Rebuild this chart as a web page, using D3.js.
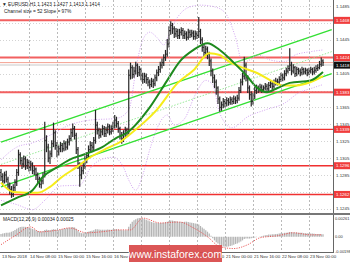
<!DOCTYPE html>
<html>
<head>
<meta charset="utf-8">
<script src="https://cdn.jsdelivr.net/npm/d3@7"></script>
<style>
  body { margin: 0; background: #fff; }
  svg { display: block; font-family: "Liberation Sans", Arial, sans-serif; }
</style>
</head>
<body>
<div id="chart"></div>
<script>
// EURUSD H1, prices in points (1.1414 -> 11414)
const firstOpen = 11288;
const closes = [11283,11278,11285,11280,11272,11268,11262,11270,11276,11288,
  11309,11302,11298,11304,11296,11300,11294,11298,11290,11292,
  11285,11280,11274,11278,11284,11326,11318,11305,11310,11322,
  11335,11320,11312,11316,11320,11316,11322,11318,11324,11328,
  11335,11340,11332,11315,11298,11285,11290,11296,11303,11308,
  11315,11320,11318,11326,11344,11338,11332,11336,11340,11334,
  11338,11342,11336,11340,11344,11350,11346,11340,11332,11328,
  11334,11338,11336,11403,11412,11404,11408,11415,11406,11410,
  11402,11398,11402,11398,11395,11392,11396,11393,11400,11406,
  11410,11415,11418,11424,11428,11440,11456,11462,11458,11452,
  11455,11450,11454,11456,11450,11452,11448,11454,11451,11453,
  11449,11452,11450,11455,11445,11436,11430,11434,11428,11420,
  11408,11400,11395,11388,11375,11365,11368,11372,11370,11373,
  11371,11374,11372,11375,11373,11376,11385,11395,11402,11415,
  11400,11388,11380,11372,11378,11385,11388,11386,11389,11386,
  11388,11390,11387,11391,11393,11390,11394,11396,11395,11398,
  11402,11400,11405,11408,11411,11415,11408,11412,11405,11410,
  11408,11406,11410,11407,11409,11406,11408,11410,11407,11409,
  11411,11412,11416,11420,11418];
const highs = [11292,11287,11289,11290,11283,11276,11272,11274,11280,11292,
  11315,11312,11306,11308,11307,11304,11303,11302,11300,11296,
  11294,11288,11283,11281,11288,11348,11332,11322,11314,11326,
  11347,11338,11324,11320,11324,11323,11326,11325,11328,11332,
  11340,11346,11343,11335,11318,11300,11295,11300,11308,11312,
  11320,11325,11324,11330,11362,11348,11341,11340,11344,11343,
  11342,11346,11345,11344,11348,11356,11354,11349,11342,11336,
  11338,11342,11341,11410,11418,11415,11413,11419,11417,11414,
  11412,11406,11406,11405,11401,11398,11400,11399,11404,11410,
  11414,11419,11423,11428,11433,11446,11461,11467,11465,11461,
  11459,11458,11458,11460,11459,11456,11455,11458,11457,11457,
  11456,11456,11455,11472,11458,11448,11440,11438,11437,11431,
  11423,11411,11404,11398,11390,11378,11372,11376,11375,11377,
  11376,11378,11377,11379,11378,11380,11389,11399,11406,11425,
  11418,11403,11391,11384,11382,11389,11392,11391,11393,11392,
  11391,11394,11393,11395,11397,11396,11398,11400,11399,11402,
  11406,11405,11409,11412,11415,11435,11419,11416,11414,11413,
  11412,11411,11413,11412,11412,11411,11412,11413,11412,11413,
  11415,11416,11420,11424,11422];
const lows = [11278,11272,11275,11276,11268,11262,11258,11259,11266,11272,
  11284,11297,11292,11294,11291,11292,11289,11290,11286,11285,
  11279,11275,11270,11269,11274,11282,11312,11300,11298,11306,
  11318,11315,11306,11308,11312,11312,11313,11314,11315,11320,
  11325,11330,11327,11310,11292,11271,11280,11286,11292,11299,
  11304,11311,11313,11314,11322,11333,11328,11329,11332,11330,
  11330,11334,11332,11333,11336,11340,11341,11335,11327,11322,
  11324,11330,11331,11333,11398,11399,11400,11404,11401,11402,
  11397,11393,11394,11393,11390,11387,11389,11388,11390,11396,
  11402,11406,11411,11414,11420,11425,11436,11451,11452,11447,
  11448,11446,11446,11450,11446,11446,11444,11445,11447,11448,
  11445,11445,11446,11447,11440,11431,11425,11426,11422,11414,
  11402,11394,11388,11380,11369,11360,11361,11364,11365,11366,
  11367,11368,11368,11369,11369,11370,11373,11382,11391,11398,
  11396,11382,11374,11366,11368,11375,11381,11382,11383,11382,
  11383,11385,11383,11384,11388,11386,11387,11391,11391,11392,
  11395,11396,11397,11402,11405,11408,11403,11405,11401,11402,
  11404,11402,11403,11404,11404,11402,11403,11405,11403,11404,
  11406,11408,11410,11413,11414];

// moving averages and bands, sampled [bar index, value]
const maGreen = [[0,11249],[9,11258],[18,11267],[24,11283],[32,11294],[39,11303],[47,11309],
  [57,11317],[66,11329],[72,11335],[85,11365],[95,11397],[102,11419],[110,11433],[118,11441],
  [125,11433],[133,11418],[141,11401],[146,11389],[152,11383],[158,11388],[165,11394],[177,11397],[184,11407]];
const maYellow = [[0,11276],[7,11265],[21,11264],[28,11271],[35,11283],[43,11294],[51,11306],
  [61,11317],[68,11324],[73,11332],[89,11362],[101,11394],[110,11409],[119,11429],[125,11427],
  [129,11421],[138,11412],[146,11406],[154,11397],[161,11391],[169,11391],[177,11395],[184,11402]];
const bandUpper = [[0,11303],[9,11318],[18,11323],[28,11332],[39,11344],[51,11350],[66,11352],
  [73,11362],[78,11421],[81,11445],[85,11454],[89,11448],[93,11439],[97,11457],[101,11472],
  [108,11484],[114,11486],[122,11484],[128,11477],[134,11448],[138,11418],[142,11421],[147,11427],
  [154,11421],[162,11419],[168,11427],[177,11431],[184,11433]];
const bandLower = [[0,11255],[9,11250],[18,11244],[25,11255],[34,11272],[45,11273],[51,11293],
  [57,11303],[64,11306],[70,11294],[73,11279],[77,11267],[81,11285],[85,11315],[91,11348],
  [95,11356],[99,11344],[105,11352],[111,11380],[117,11397],[121,11392],[125,11358],[132,11341],
  [141,11354],[151,11362],[162,11370],[170,11382],[178,11388],[184,11392]];

// regression channel: [bar index, upper, lower]
const channel = [[0,11324,11271],[189,11457,11405]];

// horizontal levels
const levels = [11468, 11424, 11383, 11339, 11296, 11262];
const priceTicks = [11485,11465,11445,11425,11405,11385,11365,11345,11325,11305,11285,11265,11245];
const bidPrice = 11418;

// MACD histogram (1e-5) per bar, signal sampled
const macd = [40,45,50,55,55,60,
  70,80,95,110,125,135,138,140,138,135,130,
  120,110,100,90,80,75,72,75,
  95,100,95,92,96,105,100,95,95,
  100,105,110,115,120,125,130,135,130,110,85,60,
  50,50,55,60,70,80,85,90,
  105,105,100,98,98,97,98,100,98,98,100,105,105,100,95,90,90,90,90,
  140,180,210,230,245,255,260,258,255,
  245,235,225,215,205,200,195,190,190,
  190,190,195,200,210,220,225,225,220,215,210,205,205,205,210,
  210,205,200,195,190,185,180,170,
  150,130,110,90,70,45,15,
  -20,-50,-75,-95,-110,-125,-135,-140,-140,-135,-130,-120,-110,-100,-95,
  -80,-65,-50,-30,-25,-25,-25,-20,-15,-10,
  -5,0,5,10,15,20,25,
  30,30,35,35,40,40,45,50,50,55,55,60,
  65,65,60,60,60,55,55,55,50,50,50,48,
  45,45,42,40,40,38,36,34];
const signal = [[0,-110],[8,14],[17,137],[22,68],[33,96],[39,123],[49,55],[57,68],[68,96],
  [74,96],[81,260],[91,192],[102,205],[110,123],[118,0],[125,-137],[133,-164],[141,-110],
  [148,-14],[158,14],[167,55],[177,27],[183,27]];
const macdTicks = [261, 0, -198];

const timeIdx = [0,16,32,48,64,80,96,112,128,144,160,176];
const timeLabels = ["13 Nov 2018","14 Nov 08:00","15 Nov 00:00","15 Nov 16:00","16 Nov 08:00",
  "19 Nov 00:00","19 Nov 16:00","20 Nov 08:00","21 Nov 00:00","21 Nov 16:00","22 Nov 08:00","23 Nov 00:00"];

const W = 350, H = 262;
const plotR = 333;
const mainTop = 0, mainBot = 213, macdTop = 215, macdBot = 252;
const fs = 4.4;

const svg = d3.select("#chart").append("svg")
  .attr("width", W).attr("height", H);

svg.append("rect").attr("width", W).attr("height", H).attr("fill", "#fff");

const x = d3.scaleLinear().domain([0, 190]).range([1, 1 + 190 * 1.75]);
const y = d3.scaleLinear().domain([11245, 11485]).range([208.8, 6]);
const yM = d3.scaleLinear().domain([-198, 261]).range([251, 218]);
const fmt = v => (v / 10000).toFixed(4);

svg.append("clipPath").attr("id", "clipMain")
  .append("rect").attr("x", 0).attr("y", mainTop).attr("width", plotR).attr("height", mainBot - mainTop);
svg.append("clipPath").attr("id", "clipMacd")
  .append("rect").attr("x", 0).attr("y", macdTop).attr("width", plotR).attr("height", macdBot - macdTop);

const main = svg.append("g").attr("clip-path", "url(#clipMain)");
const low = svg.append("g").attr("clip-path", "url(#clipMacd)");

// grid
const shownTicks = priceTicks.filter(t => levels.every(l => Math.abs(y(l) - y(t)) > 5));
main.selectAll(".hgrid").data(priceTicks).enter().append("line")
  .attr("x1", 0).attr("x2", plotR)
  .attr("y1", d => Math.round(y(d)) + 0.5).attr("y2", d => Math.round(y(d)) + 0.5)
  .attr("stroke", "#c8c8c8").attr("stroke-width", 0.8).attr("stroke-dasharray", "1,2");
svg.selectAll(".vgrid").data(timeIdx.slice(1)).enter().append("line")
  .attr("x1", d => Math.round(x(d)) + 0.5).attr("x2", d => Math.round(x(d)) + 0.5)
  .attr("y1", 0).attr("y2", macdBot)
  .attr("stroke", "#a8a8a8").attr("stroke-width", 0.8).attr("stroke-dasharray", "2,2");

// ask line band
main.append("line").attr("x1", 0).attr("x2", plotR)
  .attr("y1", y(bidPrice) + 2.5).attr("y2", y(bidPrice) + 2.5)
  .attr("stroke", "#e4e4e4").attr("stroke-width", 2);

// levels
main.selectAll(".lvl").data(levels).enter().append("line")
  .attr("x1", 0).attr("x2", plotR)
  .attr("y1", d => y(d)).attr("y2", d => y(d))
  .attr("stroke", (d, i) => i < 3 ? "#f26060" : "#f03030")
  .attr("stroke-width", (d, i) => i < 3 ? 2 : 1.4);
main.append("line").attr("x1", 0).attr("x2", plotR)
  .attr("y1", y(bidPrice)).attr("y2", y(bidPrice))
  .attr("stroke", "#f4a090").attr("stroke-width", 1);

// channel
const cx = d => x(d[0]);
main.append("line")
  .attr("x1", cx(channel[0])).attr("y1", y(channel[0][1]))
  .attr("x2", cx(channel[1])).attr("y2", y(channel[1][1]))
  .attr("stroke", "#33e033").attr("stroke-width", 1.4);
main.append("line")
  .attr("x1", cx(channel[0])).attr("y1", y(channel[0][2]))
  .attr("x2", cx(channel[1])).attr("y2", y(channel[1][2]))
  .attr("stroke", "#33e033").attr("stroke-width", 1.4);
main.append("line")
  .attr("x1", cx(channel[0])).attr("y1", y((channel[0][1] + channel[0][2]) / 2))
  .attr("x2", cx(channel[1])).attr("y2", y((channel[1][1] + channel[1][2]) / 2))
  .attr("stroke", "#90e890").attr("stroke-width", 0.9).attr("stroke-dasharray", "1.5,1.5");

// bollinger
const curve = d3.line().x(d => x(d[0])).y(d => y(d[1])).curve(d3.curveMonotoneX);
[bandUpper, bandLower].forEach(b => {
  main.append("path").attr("d", curve(b)).attr("fill", "none")
    .attr("stroke", "#cc99ee").attr("stroke-width", 0.9).attr("stroke-dasharray", "1,1.5");
});

// bars
const bars = closes.map((c, i) => ({ i, o: i ? closes[i - 1] : firstOpen, h: highs[i], l: lows[i], c }));
const bg = main.append("g");
bg.selectAll(".hl").data(bars).enter().append("line")
  .attr("x1", d => x(d.i)).attr("x2", d => x(d.i))
  .attr("y1", d => y(d.h)).attr("y2", d => y(d.l))
  .attr("stroke", "#262626").attr("stroke-width", 1.2);
bg.selectAll(".oc").data(bars).enter().append("path")
  .attr("d", d => `M${x(d.i) - 0.9},${y(d.o)}h0.9M${x(d.i)},${y(d.c)}h0.9`)
  .attr("stroke", "#262626").attr("stroke-width", 1);

// moving averages
main.append("path").attr("d", curve(maYellow)).attr("fill", "none")
  .attr("stroke", "#f6ec1a").attr("stroke-width", 2);
main.append("path").attr("d", curve(maGreen)).attr("fill", "none")
  .attr("stroke", "#1e8a1e").attr("stroke-width", 2);

// macd
low.selectAll(".hist").data(macd).enter().append("line")
  .attr("x1", (d, i) => x(i)).attr("x2", (d, i) => x(i))
  .attr("y1", yM(0)).attr("y2", d => yM(d))
  .attr("stroke", "#b4b4b4").attr("stroke-width", 1.25);
const sline = d3.line().x(d => x(d[0])).y(d => yM(d[1])).curve(d3.curveMonotoneX);
low.append("path").attr("d", sline(signal)).attr("fill", "none")
  .attr("stroke", "#e85050").attr("stroke-width", 0.9).attr("stroke-dasharray", "1.2,1.2");

// frame
svg.append("line").attr("x1", plotR + 0.5).attr("x2", plotR + 0.5).attr("y1", 0).attr("y2", macdBot)
  .attr("stroke", "#666").attr("stroke-width", 1);
svg.append("rect").attr("x", 0).attr("y", mainBot).attr("width", W).attr("height", 2).attr("fill", "#777");
svg.append("line").attr("x1", 0).attr("x2", plotR + 1).attr("y1", macdBot + 0.5).attr("y2", macdBot + 0.5)
  .attr("stroke", "#666");

// price axis
svg.selectAll(".ptick").data(shownTicks).enter().append("text")
  .attr("x", plotR + 3).attr("y", d => y(d) + 1.6)
  .attr("font-size", fs).attr("fill", "#333").text(fmt);
const lv = svg.selectAll(".lvlab").data(levels).enter().append("g")
  .attr("transform", d => `translate(${plotR + 1},${y(d) - 3.5})`);
lv.append("rect").attr("width", 16).attr("height", 7).attr("fill", "#f03c3c");
lv.append("text").attr("x", 2).attr("y", 5.1).attr("font-size", fs).attr("fill", "#fff").text(fmt);
const bid = svg.append("g").attr("transform", `translate(${plotR + 1},${y(bidPrice) - 1})`);
bid.append("rect").attr("width", 16).attr("height", 7).attr("fill", "#111");
bid.append("text").attr("x", 2).attr("y", 5.1).attr("font-size", fs).attr("fill", "#fff").text(fmt(bidPrice));

// macd axis
svg.selectAll(".mtick").data(macdTicks).enter().append("text")
  .attr("x", plotR + 2).attr("y", d => yM(d) + 1.6)
  .attr("font-size", 4).attr("fill", "#333")
  .text(d => d === 0 ? "0.00" : (d / 100000).toFixed(5));

// time axis
svg.selectAll(".tlab").data(timeIdx).enter().append("text")
  .attr("x", d => x(d) + 1).attr("y", 258)
  .attr("font-size", fs).attr("fill", "#333")
  .text((d, i) => timeLabels[i]);

// titles
svg.append("text").attr("x", 2).attr("y", 6).attr("font-size", 4.8).attr("fill", "#222")
  .text("\u25BC EURUSD,H1  1.1423 1.1427 1.1413 1.1414");
svg.append("text").attr("x", 4).attr("y", 13).attr("font-size", 4.8).attr("fill", "#222")
  .text("Channel size = 52 Slope = 97%");
svg.append("text").attr("x", 3).attr("y", 221).attr("font-size", 4.8).attr("fill", "#222")
  .text("MACD(12,26,9) 0.00034 0.00025");

// watermark
svg.append("rect").attr("x", 129).attr("y", 245).attr("width", 93).attr("height", 17)
  .attr("fill", "#d84848").attr("opacity", 0.92);
svg.append("text").attr("x", 175.5).attr("y", 257.5).attr("text-anchor", "middle")
  .attr("font-size", 10.5).attr("fill", "#fff").text("www.instaforex.com");
</script>
</body>
</html>
